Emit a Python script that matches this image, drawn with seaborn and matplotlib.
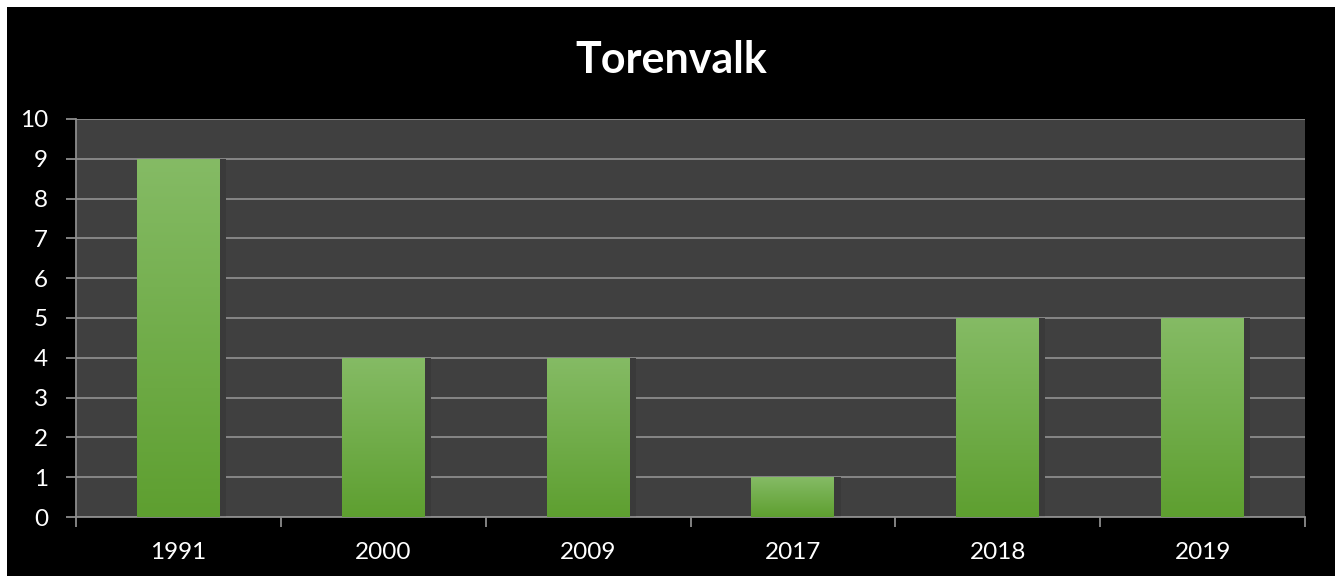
import numpy as np
import pandas as pd
import matplotlib
matplotlib.use("Agg")
import matplotlib.pyplot as plt
import seaborn as sns
from matplotlib.patches import Rectangle
from matplotlib.colors import LinearSegmentedColormap

title = "Torenvalk"
years = ["1991", "2000", "2009", "2017", "2018", "2019"]
counts = [9, 4, 4, 1, 5, 5]

sns.set_theme(style="dark")
plt.rcParams["font.family"] = ["Lato", "DejaVu Sans"]

W, H = 1339, 576
fig = plt.figure(figsize=(W / 100, H / 100), dpi=100, facecolor="white")
fig.patches.append(Rectangle((7 / W, 0), (1335 - 7) / W, (H - 7) / H,
                             transform=fig.transFigure, facecolor="black",
                             edgecolor="none", zorder=-10))

ax = fig.add_axes([76 / W, 1 - 517 / H, (1305 - 76) / W, (517 - 119) / H])
ax.set_facecolor("#404040")

df = pd.DataFrame({"year": years, "count": counts})
sns.barplot(data=df, x="year", y="count", color="#6fae47", width=0.405,
            saturation=1, ax=ax, zorder=3, edgecolor="none", linewidth=0)

cmap = LinearSegmentedColormap.from_list("g", ["#5e9f30", "#85bb65"])
grad = np.linspace(0, 1, 256).reshape(-1, 1)
for p in ax.patches:
    x0, y0 = p.get_x(), p.get_y()
    w, h = p.get_width(), p.get_height()
    # soft shadow
    ax.add_patch(Rectangle((x0 + w, y0), 0.03, h, facecolor="#3a3a3a",
                           edgecolor="none", zorder=2))
    im = ax.imshow(grad, extent=[x0, x0 + w, y0, y0 + h], origin="lower",
                   cmap=cmap, aspect="auto", zorder=4)
    im.set_clip_path(p)

ax.set_xlim(-0.5, len(years) - 0.5)
ax.set_ylim(0, 10)
ax.set_yticks(range(0, 11))
ax.grid(axis="y", color="#8c8c8c", linewidth=1.3, zorder=1)
ax.grid(axis="x", visible=False)
ax.set_axisbelow(True)

for s in ["top", "right"]:
    ax.spines[s].set_visible(False)
for s in ["left", "bottom"]:
    ax.spines[s].set_visible(True)
    ax.spines[s].set_color("#8c8c8c")
    ax.spines[s].set_linewidth(1.3)

ax.set_xlabel("")
ax.set_ylabel("")
ax.set_xticks(np.arange(-0.5, len(years)), minor=True)
ax.tick_params(axis="x", which="minor", length=7, width=1.3, color="#8c8c8c",
               direction="out", bottom=True)
ax.tick_params(axis="x", which="major", length=0, pad=18, labelsize=17.5,
               labelcolor="white")
ax.tick_params(axis="y", which="major", length=7, width=1.3, color="#8c8c8c",
               direction="out", left=True, pad=13, labelsize=17.5,
               labelcolor="white")

fig.text(671 / W, 1 - 60 / H, title, ha="center", va="center", color="white",
         fontsize=31, fontweight="bold")

fig.savefig("out.png", dpi=100, facecolor=fig.get_facecolor())
